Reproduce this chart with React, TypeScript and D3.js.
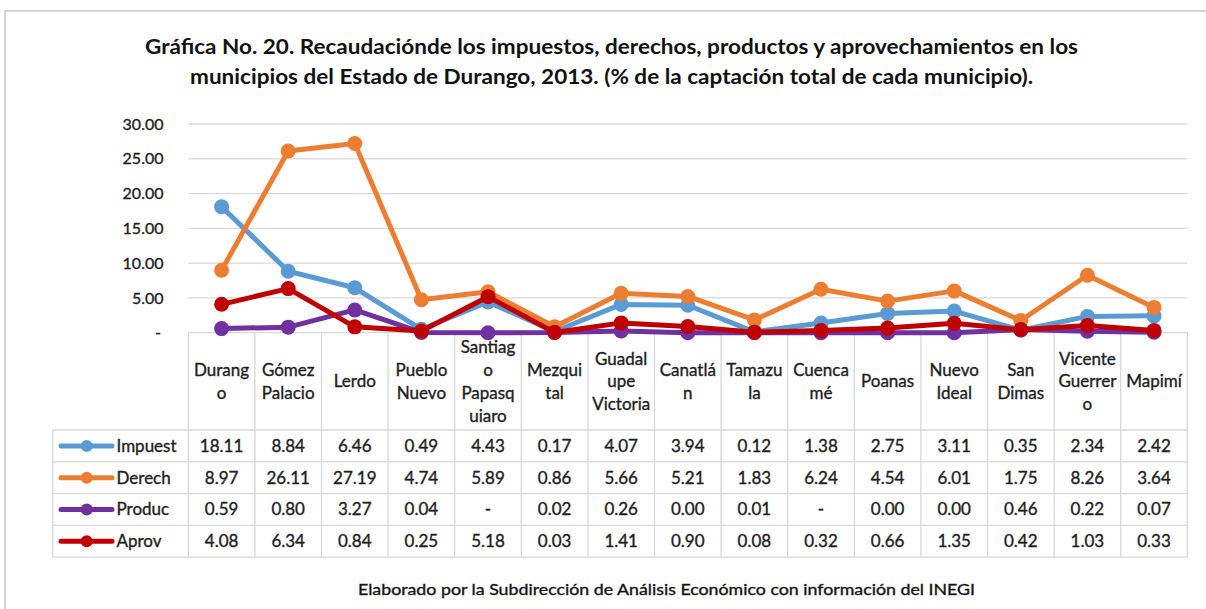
import * as d3 from "d3";

const W = 1206;
const H = 609;

// municipalities, wrapped as in the data table header
const municipios = [
  ["Durang", "o"],
  ["Gómez", "Palacio"],
  ["Lerdo"],
  ["Pueblo", "Nuevo"],
  ["Santiag", "o", "Papasq", "uiaro"],
  ["Mezqui", "tal"],
  ["Guadal", "upe", "Victoria"],
  ["Canatlá", "n"],
  ["Tamazu", "la"],
  ["Cuenca", "mé"],
  ["Poanas"],
  ["Nuevo", "Ideal"],
  ["San", "Dimas"],
  ["Vicente", "Guerrer", "o"],
  ["Mapimí"],
];

// null = shown as "-" in the table (plotted at zero)
const impuestos = [18.11, 8.84, 6.46, 0.49, 4.43, 0.17, 4.07, 3.94, 0.12, 1.38, 2.75, 3.11, 0.35, 2.34, 2.42];
const derechos = [8.97, 26.11, 27.19, 4.74, 5.89, 0.86, 5.66, 5.21, 1.83, 6.24, 4.54, 6.01, 1.75, 8.26, 3.64];
const productos = [0.59, 0.8, 3.27, 0.04, null, 0.02, 0.26, 0.0, 0.01, null, 0.0, 0.0, 0.46, 0.22, 0.07];
const aprovechamientos = [4.08, 6.34, 0.84, 0.25, 5.18, 0.03, 1.41, 0.9, 0.08, 0.32, 0.66, 1.35, 0.42, 1.03, 0.33];

const seriesNames = ["Impuest", "Derech", "Produc", "Aprov"];
const seriesColors = ["#5b9bd5", "#ed7d31", "#7030a0", "#c00000"];
const seriesValues = [impuestos, derechos, productos, aprovechamientos];

const yTicks = [0, 5, 10, 15, 20, 25, 30];

const titleLines = [
  "Gráfica No. 20. Recaudaciónde los impuestos, derechos, productos y aprovechamientos en los",
  "municipios del Estado de Durango, 2013. (% de la captación total de cada municipio).",
];
const footer = "Elaborado por la Subdirección de Análisis Económico con información del INEGI";

const font = "Lato, 'Open Sans', sans-serif";
const grid = "#d9d9d9";
const ink = "#1e1e1e";

export default function App() {
  const left = 188.3;
  const right = 1187.3;
  const tableLeft = 52.7;
  const headerTop = 332.7;
  const headerBottom = 430;
  const rowH = 31.8;

  const x = d3
    .scaleBand<number>()
    .domain(d3.range(municipios.length))
    .range([left, right]);
  const y = d3.scaleLinear().domain([0, 30]).range([332.7, 124]);

  const line = d3
    .line<number | null>()
    .x((_, i) => x(i)! + x.bandwidth() / 2)
    .y((d) => y(d ?? 0));

  const fmt = (v: number | null) => (v === null ? "-" : v.toFixed(2));

  const rowY = (r: number) => headerBottom + r * rowH;

  // scanned text looks a bit heavier than plain regular weight
  const heavy = { stroke: ink, strokeWidth: 0.35 };

  return (
    <svg
      width={W}
      height={H}
      style={{ position: "absolute", left: 0, top: 0, background: "#fff" }}
      fontFamily={font}
    >
      {/* outer frame */}
      <rect x={5} y={11} width={W + 20} height={H + 20} fill="none" stroke="#d4d4d4" strokeWidth={2} />

      {/* title */}
      {titleLines.map((t, i) => (
        <text
          key={i}
          x={611.5}
          y={54 + i * 29.5}
          textAnchor="middle"
          fontSize={20}
          fontWeight={700}
          fill="#111"
          textLength={i === 0 ? 933 : 843}
          lengthAdjust="spacingAndGlyphs"
        >
          {t}
        </text>
      ))}

      {/* gridlines + y labels */}
      {yTicks.map((t) => (
        <g key={t}>
          <line x1={left} x2={right} y1={y(t)} y2={y(t)} stroke={grid} strokeWidth={1.3} />
          <text
            x={t === 0 ? 158 : 163.5}
            y={y(t)}
            dy="0.35em"
            textAnchor={t === 0 ? "middle" : "end"}
            fontSize={16}
            fill={ink}
            {...heavy}
          >
            {t === 0 ? "-" : t.toFixed(2)}
          </text>
        </g>
      ))}

      {/* data table grid */}
      <g stroke={grid} strokeWidth={1.3}>
        {d3.range(municipios.length + 1).map((i) => {
          const xx = i < municipios.length ? x(i)! : right;
          return <line key={i} x1={xx} x2={xx} y1={headerTop} y2={rowY(4)} />;
        })}
        <line x1={tableLeft} x2={tableLeft} y1={headerBottom} y2={rowY(4)} />
        {d3.range(5).map((r) => (
          <line key={r} x1={tableLeft} x2={right} y1={rowY(r)} y2={rowY(r)} />
        ))}
      </g>

      {/* header labels */}
      {municipios.map((lines, i) => {
        const cx = x(i)! + x.bandwidth() / 2;
        const mid = (headerTop + headerBottom) / 2;
        const lh = 22.8;
        const start = mid - ((lines.length - 1) * lh) / 2;
        return (
          <text key={i} textAnchor="middle" fontSize={17} fill={ink} {...heavy}>
            {lines.map((l, j) => (
              <tspan key={j} x={cx} y={start + j * lh} dy="0.35em">
                {l}
              </tspan>
            ))}
          </text>
        );
      })}

      {/* table rows */}
      {seriesValues.map((vals, r) => {
        const cy = rowY(r) + rowH / 2;
        return (
          <g key={r}>
            <line x1={61} x2={112} y1={cy} y2={cy} stroke={seriesColors[r]} strokeWidth={5} strokeLinecap="round" />
            <circle cx={86.7} cy={cy} r={6} fill={seriesColors[r]} />
            <text x={116.5} y={cy} dy="0.35em" fontSize={17} fill={ink} {...heavy}>
              {seriesNames[r]}
            </text>
            {vals.map((v, i) => (
              <text
                key={i}
                x={x(i)! + x.bandwidth() / 2}
                y={cy}
                dy="0.35em"
                textAnchor="middle"
                fontSize={17}
                fill={ink}
                {...heavy}
              >
                {fmt(v)}
              </text>
            ))}
          </g>
        );
      })}

      {/* series lines */}
      {seriesValues.map((vals, r) => (
        <g key={r}>
          <path d={line(vals) ?? ""} fill="none" stroke={seriesColors[r]} strokeWidth={5} strokeLinejoin="round" />
          {vals.map((v, i) => (
            <circle key={i} cx={x(i)! + x.bandwidth() / 2} cy={y(v ?? 0)} r={7.5} fill={seriesColors[r]} />
          ))}
        </g>
      ))}

      {/* footer */}
      <text
        x={666.5}
        y={595}
        textAnchor="middle"
        fontSize={15}
        fill="#111"
        textLength={617}
        lengthAdjust="spacingAndGlyphs"
        {...heavy}
      >
        {footer}
      </text>
    </svg>
  );
}
